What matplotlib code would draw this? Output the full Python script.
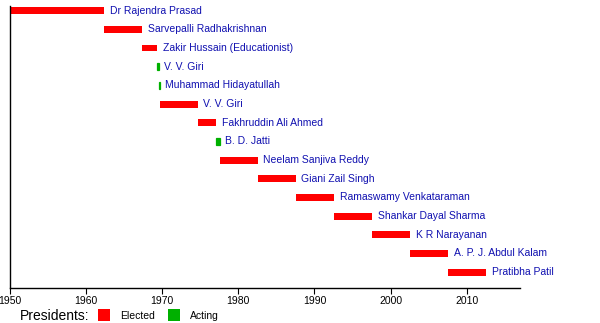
import matplotlib
matplotlib.use('Agg')
import matplotlib.pyplot as plt
from matplotlib.patches import Rectangle

# Presidents of India, term start / end as decimal years
names = ['Dr Rajendra Prasad', 'Sarvepalli Radhakrishnan', 'Zakir Hussain (Educationist)',
         'V. V. Giri', 'Muhammad Hidayatullah', 'V. V. Giri', 'Fakhruddin Ali Ahmed',
         'B. D. Jatti', 'Neelam Sanjiva Reddy', 'Giani Zail Singh', 'Ramaswamy Venkataraman',
         'Shankar Dayal Sharma', 'K R Narayanan', 'A. P. J. Abdul Kalam', 'Pratibha Patil']
starts = [1950.07, 1962.37, 1967.37, 1969.34, 1969.55, 1969.65, 1974.65, 1977.11,
          1977.56, 1982.56, 1987.56, 1992.56, 1997.56, 2002.56, 2007.56]
ends = [1962.37, 1967.37, 1969.34, 1969.55, 1969.65, 1974.65, 1977.11, 1977.56,
        1982.56, 1987.56, 1992.56, 1997.56, 2002.56, 2007.56, 2012.56]
kinds = ['Elected', 'Elected', 'Elected', 'Acting', 'Acting', 'Elected', 'Elected', 'Acting',
         'Elected', 'Elected', 'Elected', 'Elected', 'Elected', 'Elected', 'Elected']
years = [1950, 1960, 1970, 1980, 1990, 2000, 2010]

colors = {'Elected': '#ff0000', 'Acting': '#00b000'}
label_color = '#1010b0'

fig = plt.figure(figsize=(6, 3.23), dpi=100)
ax = fig.add_axes([10/600, 35/323, 510/600, 282/323])

for i, (n, s, e, k) in enumerate(zip(names, starts, ends, kinds)):
    # acting terms are very short, give them an outline so they stay visible
    lw = 0.9 if k == 'Acting' else 0
    ax.barh(i, e - s, left=s, height=0.37, color=colors[k], edgecolor=colors[k], linewidth=lw)
    ax.annotate(n, (e, i), xytext=(4, 0), textcoords='offset points', va='center',
                ha='left', fontsize=7.5, color=label_color, family='Liberation Sans')

ax.set_xlim(1950, 2017)
ax.set_ylim(14.85, -0.25)
ax.set_xticks(years)
ax.set_xticklabels([str(y) for y in years], fontsize=7.5, family='Liberation Sans')
ax.set_yticks([])
ax.tick_params(axis='x', direction='out', length=4, width=0.8, pad=2)
ax.spines['top'].set_visible(False)
ax.spines['right'].set_visible(False)
for sp in ['left', 'bottom']:
    ax.spines[sp].set_linewidth(1.0)

# legend along the bottom
fig.text(20/600, 1 - 316/323, 'Presidents:', fontsize=10, va='center', ha='left',
         family='Liberation Sans')
fig.patches.append(Rectangle((98/600, 1 - 321/323), 12/600, 12/323,
                             transform=fig.transFigure, color=colors['Elected'], lw=0))
fig.text(120/600, 1 - 316/323, 'Elected', fontsize=7.5, va='center', ha='left',
         family='Liberation Sans')
fig.patches.append(Rectangle((168/600, 1 - 321/323), 12/600, 12/323,
                             transform=fig.transFigure, color=colors['Acting'], lw=0))
fig.text(190/600, 1 - 316/323, 'Acting', fontsize=7.5, va='center', ha='left',
         family='Liberation Sans')

fig.savefig('out.png', dpi=100)
